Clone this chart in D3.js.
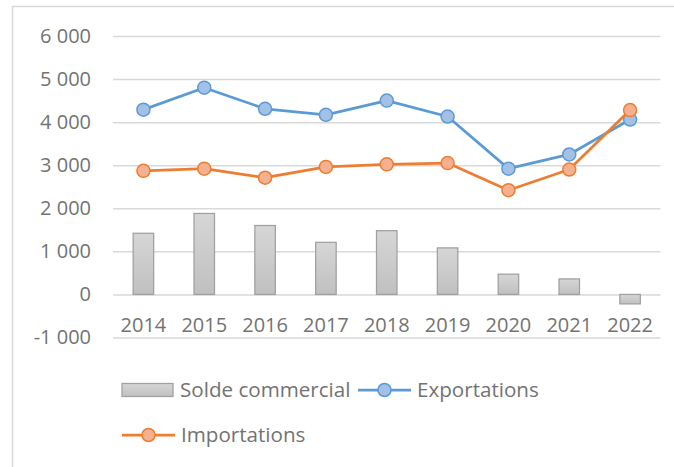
<!DOCTYPE html>
<html>
<head>
<meta charset="utf-8">
<script src="https://cdn.jsdelivr.net/npm/d3@7"></script>
<style>
  body { margin: 0; background: #fff; }
  text { font-family: "Open Sans", sans-serif; }
</style>
</head>
<body>
<svg id="chart" width="674" height="467"></svg>
<script>
// data
const years = ["2014", "2015", "2016", "2017", "2018", "2019", "2020", "2021", "2022"];
const solde = [1420, 1880, 1600, 1210, 1480, 1080, 470, 360, -220];
const exportations = [4290, 4800, 4310, 4170, 4500, 4130, 2920, 3250, 4060];
const importations = [2870, 2920, 2710, 2960, 3020, 3050, 2420, 2900, 4280];
const yTicks = [-1000, 0, 1000, 2000, 3000, 4000, 5000, 6000];

const textColor = "#737373";
const gridColor = "#d9d9d9";

const svg = d3.select("#chart");

// chart frame (only left/top edges visible in the picture)
svg.append("rect")
    .attr("x", 12.5).attr("y", 6.5)
    .attr("width", 700).attr("height", 500)
    .attr("fill", "none")
    .attr("stroke", gridColor)
    .attr("stroke-width", 1.5);

const plotLeft = 113, plotRight = 660.5, plotTop = 36, plotBottom = 337.5;

const x = d3.scaleBand()
    .domain(years)
    .range([plotLeft, plotRight]);

const y = d3.scaleLinear()
    .domain([-1000, 6000])
    .range([plotBottom, plotTop]);

const fr = d3.formatLocale({ decimal: ",", thousands: " ", grouping: [3], currency: ["", ""], minus: "-" });
const fmt = fr.format(",d");

// y axis + gridlines
const yAxis = svg.append("g")
    .attr("transform", "translate(" + plotLeft + ",0)")
    .call(d3.axisLeft(y).tickValues(yTicks).tickFormat(fmt)
        .tickSize(-(plotRight - plotLeft)).tickPadding(22));
yAxis.select(".domain").remove();
yAxis.selectAll(".tick line")
    .attr("stroke", gridColor)
    .attr("stroke-width", 1.5);
yAxis.selectAll(".tick text")
    .attr("fill", textColor)
    .style("font-size", "20px");

// bar gradient
const defs = svg.append("defs");
const grad = defs.append("linearGradient")
    .attr("id", "bar-grad")
    .attr("x1", 0).attr("y1", 0).attr("x2", 0).attr("y2", 1);
grad.append("stop").attr("offset", "0%").attr("stop-color", "#d6d6d6");
grad.append("stop").attr("offset", "100%").attr("stop-color", "#c0c0c0");

const barW = 20.5;
svg.append("g")
    .selectAll("rect")
    .data(solde)
    .join("rect")
    .attr("x", (d, i) => x(years[i]) + x.bandwidth() / 2 - barW / 2)
    .attr("y", d => Math.min(y(d), y(0)))
    .attr("width", barW)
    .attr("height", d => Math.abs(y(d) - y(0)))
    .attr("fill", "url(#bar-grad)")
    .attr("stroke", "#a0a0a0")
    .attr("stroke-width", 1.25);

// x axis labels at zero line
const xAxis = svg.append("g")
    .attr("transform", "translate(0," + y(0) + ")")
    .call(d3.axisBottom(x).tickSize(0).tickPadding(23));
xAxis.select(".domain").remove();
xAxis.selectAll(".tick text")
    .attr("fill", textColor)
    .style("font-size", "20px");

// line series
const series = [
    { name: "Exportations", values: exportations, stroke: "#5b9bd5", fill: "#a3c1e6" },
    { name: "Importations", values: importations, stroke: "#ed7d31", fill: "#f5b18f" }
];

const line = d3.line()
    .x((d, i) => x(years[i]) + x.bandwidth() / 2)
    .y(d => y(d));

series.forEach(s => {
    const g = svg.append("g");
    g.append("path")
        .datum(s.values)
        .attr("d", line)
        .attr("fill", "none")
        .attr("stroke", s.stroke)
        .attr("stroke-width", 2.75)
        .attr("stroke-linejoin", "round");
    g.selectAll("circle")
        .data(s.values)
        .join("circle")
        .attr("cx", (d, i) => x(years[i]) + x.bandwidth() / 2)
        .attr("cy", d => y(d))
        .attr("r", 6.5)
        .attr("fill", s.fill)
        .attr("stroke", s.stroke)
        .attr("stroke-width", 1.5);
});

// legend
const legend = svg.append("g").attr("class", "legend");

const lgSolde = legend.append("g").attr("transform", "translate(122,390)");
lgSolde.append("rect")
    .attr("x", 0).attr("y", -6.5)
    .attr("width", 51).attr("height", 13)
    .attr("fill", "url(#bar-grad)")
    .attr("stroke", "#a0a0a0")
    .attr("stroke-width", 1.25);
lgSolde.append("text")
    .attr("x", 58).attr("dy", "0.35em")
    .attr("fill", textColor)
    .style("font-size", "20.6px")
    .text("Solde commercial");

const legendPos = [[358, 390], [122, 435]];
series.forEach((s, i) => {
    const g = legend.append("g")
        .attr("transform", "translate(" + legendPos[i][0] + "," + legendPos[i][1] + ")");
    g.append("line")
        .attr("x1", 0).attr("x2", 53)
        .attr("stroke", s.stroke)
        .attr("stroke-width", 2.75);
    g.append("circle")
        .attr("cx", 26.5).attr("r", 6.5)
        .attr("fill", s.fill)
        .attr("stroke", s.stroke)
        .attr("stroke-width", 1.5);
    g.append("text")
        .attr("x", 59).attr("dy", "0.35em")
        .attr("fill", textColor)
        .style("font-size", "20.6px")
        .text(s.name);
});
</script>
</body>
</html>
